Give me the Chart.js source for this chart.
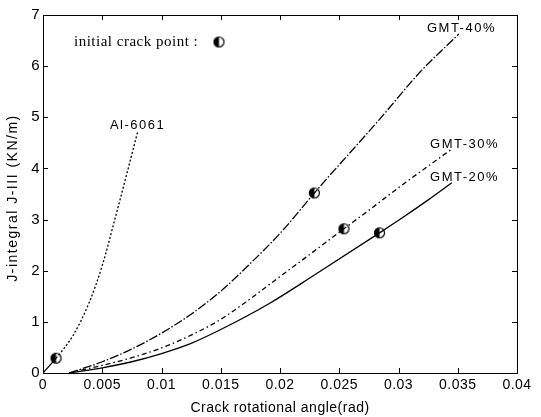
<!DOCTYPE html>
<html>
<head>
<meta charset="utf-8">
<script src="https://cdn.jsdelivr.net/npm/chart.js@4"></script>
<style>
  body { margin: 0; background: #fff; }
  #wrap { width: 541px; height: 417px; }
</style>
</head>
<body>
<div id="wrap"><canvas id="chart"></canvas></div>
<script>
// J-integral curves vs crack rotational angle
const alX = [0, 0.0011, 0.0025, 0.0039, 0.0050, 0.0060, 0.0070, 0.0080];
const alY = [0, 0.29, 0.72, 1.38, 2.1, 2.95, 3.83, 4.73];

const gmt40X = [0.0022, 0.005, 0.0075, 0.01, 0.0125, 0.015, 0.0174, 0.0202, 0.0229, 0.0284, 0.0318, 0.0351];
const gmt40Y = [0, 0.22, 0.47, 0.78, 1.15, 1.6, 2.12, 2.78, 3.52, 4.96, 5.88, 6.63];

const gmt30X = [0.0022, 0.005, 0.0075, 0.01, 0.0125, 0.015, 0.0202, 0.0254, 0.0276, 0.0301, 0.0345];
const gmt30Y = [0, 0.15, 0.3, 0.49, 0.74, 1.05, 1.92, 2.82, 3.2, 3.64, 4.38];

const gmt20X = [0.0022, 0.005, 0.0075, 0.01, 0.0125, 0.015, 0.0191, 0.023, 0.0284, 0.0301, 0.0326, 0.0345];
const gmt20Y = [0, 0.1, 0.22, 0.38, 0.58, 0.85, 1.36, 1.93, 2.74, 3.0, 3.4, 3.72];

// initial crack points
const crackX = [0.0011, 0.0229, 0.0254, 0.0284];
const crackY = [0.29, 3.52, 2.82, 2.74];

const xTicks = [0, 0.005, 0.01, 0.015, 0.02, 0.025, 0.03, 0.035, 0.04];
const yTicks = [0, 1, 2, 3, 4, 5, 6, 7];

const curveLabels = [
  { text: 'Al-6061', x: 0.00565, y: 4.85 },
  { text: 'GMT-40%', x: 0.0324, y: 6.73 },
  { text: 'GMT-30%', x: 0.03266, y: 4.46 },
  { text: 'GMT-20%', x: 0.03266, y: 3.83 }
];

const SANS = '"Liberation Sans", Arial, sans-serif';

function pts(xs, ys) {
  return xs.map((x, i) => ({ x: x, y: ys[i] }));
}

// half filled circle
function halfDot(r) {
  const c = document.createElement('canvas');
  const s = r * 2 + 3;
  c.width = s; c.height = s;
  const g = c.getContext('2d');
  const m = s / 2;
  g.fillStyle = '#fff';
  g.beginPath(); g.arc(m, m, r, 0, Math.PI * 2); g.fill();
  g.fillStyle = '#000';
  g.beginPath(); g.arc(m, m, r, Math.PI / 2, Math.PI * 1.5); g.closePath(); g.fill();
  g.strokeStyle = '#000'; g.lineWidth = 1.2;
  g.beginPath(); g.arc(m, m, r, 0, Math.PI * 2); g.stroke();
  return c;
}
const dot = halfDot(5);

const boxPlugin = {
  id: 'boxPlugin',
  beforeLayout(chart) { chart.ctx.letterSpacing = '0.5px'; },
  beforeDraw(chart) { chart.ctx.letterSpacing = '0.5px'; },
  afterDatasetsDraw(chart) {
    const ctx = chart.ctx;
    const a = chart.chartArea;
    const xs = chart.scales.x, ys = chart.scales.y;
    ctx.save();
    ctx.strokeStyle = '#000';
    ctx.lineWidth = 1;
    ctx.strokeRect(a.left + 0.5, a.top + 0.5, a.right - a.left, a.bottom - a.top);
    // inward ticks on all four sides
    ctx.beginPath();
    xTicks.forEach(v => {
      const p = Math.round(xs.getPixelForValue(v)) + 0.5;
      ctx.moveTo(p, a.bottom); ctx.lineTo(p, a.bottom - 5);
      ctx.moveTo(p, a.top); ctx.lineTo(p, a.top + 5);
    });
    yTicks.forEach(v => {
      const p = Math.round(ys.getPixelForValue(v)) + 0.5;
      ctx.moveTo(a.left, p); ctx.lineTo(a.left + 5, p);
      ctx.moveTo(a.right, p); ctx.lineTo(a.right - 5, p);
    });
    ctx.stroke();

    ctx.fillStyle = '#000';
    ctx.font = '13px ' + SANS;
    ctx.letterSpacing = '1.5px';
    ctx.textBaseline = 'middle';
    curveLabels.forEach(l => {
      ctx.fillText(l.text, xs.getPixelForValue(l.x), ys.getPixelForValue(l.y));
    });

    // y axis title
    ctx.save();
    ctx.translate(13, 198);
    ctx.rotate(-Math.PI / 2);
    ctx.textAlign = 'center';
    ctx.font = '14px ' + SANS;
    ctx.letterSpacing = '1.5px';
    ctx.fillText('J-integral J-III (KN/m)', 0, 0);
    ctx.restore();

    ctx.font = '15px "Liberation Serif", "Times New Roman", serif';
    ctx.letterSpacing = '0.5px';
    ctx.fillText('initial crack point :', 74, 42);
    ctx.drawImage(dot, 219 - dot.width / 2, 42 - dot.height / 2);
    ctx.restore();
  }
};

const lineStyle = { borderColor: '#000', borderWidth: 1.3, pointRadius: 0, fill: false, showLine: true, cubicInterpolationMode: 'monotone' };

new Chart('chart', {
  type: 'scatter',
  data: {
    datasets: [
      Object.assign({}, lineStyle, {
        label: 'Al-6061', data: pts(alX, alY),
        segment: { borderDash: s => s.p0DataIndex === 0 ? [] : [2, 2] }
      }),
      Object.assign({}, lineStyle, { label: 'GMT-40%', data: pts(gmt40X, gmt40Y), borderDash: [9, 2, 1.5, 2] }),
      Object.assign({}, lineStyle, { label: 'GMT-30%', data: pts(gmt30X, gmt30Y), borderDash: [5, 3, 1.5, 3] }),
      Object.assign({}, lineStyle, { label: 'GMT-20%', data: pts(gmt20X, gmt20Y) }),
      { label: 'crack', data: pts(crackX, crackY), pointStyle: dot, pointRadius: 6, showLine: false }
    ]
  },
  options: {
    responsive: true,
    maintainAspectRatio: false,
    animation: false,
    layout: { padding: { top: 15, right: 24, left: 0, bottom: 0 } },
    plugins: { legend: { display: false }, tooltip: { enabled: false } },
    scales: {
      x: {
        type: 'linear', min: 0, max: 0.04,
        afterBuildTicks: s => { s.ticks = xTicks.map(v => ({ value: v })); },
        afterFit: s => { s.height = 44; },
        grid: { display: false, drawTicks: false },
        border: { display: false },
        ticks: {
          color: '#000', padding: 4,
          font: { family: SANS, size: 14 },
          callback: v => String(+v.toFixed(3))
        },
        title: {
          display: true, text: 'Crack rotational angle(rad)', color: '#000',
          font: { family: SANS, size: 14 },
          padding: { top: 0, bottom: 0 }
        }
      },
      y: {
        type: 'linear', min: 0, max: 7,
        afterBuildTicks: s => { s.ticks = yTicks.map(v => ({ value: v })); },
        afterFit: s => { s.width = 43; },
        grid: { display: false, drawTicks: false },
        border: { display: false },
        ticks: {
          color: '#000', padding: 3,
          font: { family: SANS, size: 15 }
        }
      }
    }
  },
  plugins: [boxPlugin]
});
</script>
</body>
</html>
